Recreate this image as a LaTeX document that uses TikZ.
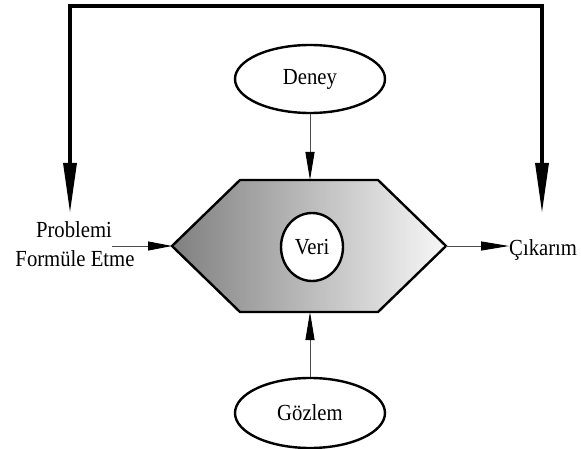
\documentclass[tikz,border=0pt]{standalone}
\usepackage{fontspec}
\setmainfont{Liberation Serif}[FakeStretch=0.9]
\usetikzlibrary{arrows.meta,shapes.geometric}
\begin{document}
\begin{tikzpicture}[x=1pt,y=-1pt,
 txt/.style={font=\fontsize{23}{29}\selectfont, inner sep=0pt},
 oval/.style={ellipse, draw, line width=2.4pt, fill=white, minimum width=150pt, minimum height=68pt, inner sep=0pt, txt},
 thinarrow/.style={draw=black!70, line width=0.9pt, -{Triangle[length=28pt,width=9pt,color=black]}},
 heavyarrow/.style={line width=3.2pt, {Triangle[length=50pt,width=13pt]}-{Triangle[length=50pt,width=13pt]}},
 hexline/.style={line width=2.4pt, line join=miter, left color=black!50, right color=black!3}
]
\useasboundingbox (0,0) rectangle (581,449);
% hexagon
\coordinate (hl) at (172,246);
\coordinate (hr) at (446,246);
\coordinate (ht) at (310,180);
\coordinate (hb) at (310,312);
\path[draw, hexline] (hl) -- (240,180) -- (378,180) -- (hr) -- (378,312) -- (240,312) -- cycle;
% nodes
\node[oval, minimum width=62pt, minimum height=68pt] (veri) at (312,247) {Veri};
\node[oval] (deney) at (310,79) {Deney};
\node[oval, minimum height=70pt] (gozlem) at (310,413) {Gözlem};
\node[txt, anchor=base] (prob) at (74,237) {Problemi};
\node[txt, anchor=base] (form) at (75,266) {Formüle Etme};
\node[txt, anchor=base west] (cik) at (509,255) {Çıkarım};
% connectors
\draw[thinarrow] (deney) -- (ht);
\draw[thinarrow] (gozlem) -- (hb);
\draw[thinarrow, -{Triangle[length=24pt,width=9pt,color=black]}] (prob.east |- hl) -- (hl);
\draw[thinarrow] (hr) -- (cik.west |- hr);
% feedback loop
\coordinate (la) at (70,213);
\coordinate (ra) at (542,213);
\coordinate (topmid) at (306,6);
\draw[heavyarrow] (la) |- (topmid) -| (ra);
\end{tikzpicture}
\end{document}
